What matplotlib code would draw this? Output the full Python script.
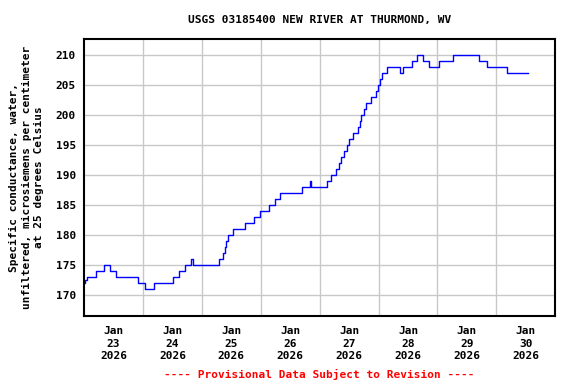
import matplotlib.pyplot as plt
import pandas as pd

# Specific conductance readings (step changes)
times = ['2026-01-23 00:00', '2026-01-23 00:30', '2026-01-23 01:00', '2026-01-23 04:45',
         '2026-01-23 08:15', '2026-01-23 10:30', '2026-01-23 13:00', '2026-01-23 22:00',
         '2026-01-24 01:00', '2026-01-24 04:30', '2026-01-24 12:15', '2026-01-24 14:45',
         '2026-01-24 17:15', '2026-01-24 19:45', '2026-01-24 20:15', '2026-01-25 07:00',
         '2026-01-25 08:45', '2026-01-25 09:30', '2026-01-25 10:00', '2026-01-25 10:45',
         '2026-01-25 12:45', '2026-01-25 17:30', '2026-01-25 21:15', '2026-01-25 23:45',
         '2026-01-26 03:30', '2026-01-26 05:45', '2026-01-26 08:00', '2026-01-26 16:45',
         '2026-01-26 20:15', '2026-01-26 20:30', '2026-01-27 03:00', '2026-01-27 04:45',
         '2026-01-27 06:45', '2026-01-27 07:45', '2026-01-27 08:45', '2026-01-27 09:45',
         '2026-01-27 11:15', '2026-01-27 12:00', '2026-01-27 13:30', '2026-01-27 15:45',
         '2026-01-27 16:15', '2026-01-27 17:00', '2026-01-27 18:00', '2026-01-27 19:00',
         '2026-01-27 21:00', '2026-01-27 23:00', '2026-01-27 23:45', '2026-01-28 00:30',
         '2026-01-28 01:15', '2026-01-28 03:30', '2026-01-28 08:45', '2026-01-28 10:00',
         '2026-01-28 13:30', '2026-01-28 15:30', '2026-01-28 18:15', '2026-01-28 20:45',
         '2026-01-29 00:30', '2026-01-29 06:15', '2026-01-29 17:00', '2026-01-29 20:15',
         '2026-01-30 04:15', '2026-01-30 12:45']
values = [172, 172.5, 173, 174,
          175, 174, 173, 172,
          171, 172, 173, 174,
          175, 176, 175, 176,
          177, 178, 179, 180,
          181, 182, 183, 184,
          185, 186, 187, 188,
          189, 188, 189, 190,
          191, 192, 193, 194,
          195, 196, 197, 198,
          199, 200, 201, 202,
          203, 204, 205, 206,
          207, 208, 207, 208,
          209, 210, 209, 208,
          209, 210, 209, 208,
          207, 207]

yticks = [170, 175, 180, 185, 190, 195, 200, 205, 210]
day_labels = ['2026-01-23 12:00', '2026-01-24 12:00', '2026-01-25 12:00', '2026-01-26 12:00',
              '2026-01-27 12:00', '2026-01-28 12:00', '2026-01-29 12:00', '2026-01-30 12:00']
day_lines = ['2026-01-24', '2026-01-25', '2026-01-26', '2026-01-27',
             '2026-01-28', '2026-01-29', '2026-01-30']

t = pd.to_datetime(times)
plt.rcParams['font.family'] = 'DejaVu Sans Mono'
plt.rcParams['font.weight'] = 'bold'

fig = plt.figure(figsize=(5.76, 3.84), dpi=100)
ax = fig.add_axes([0.146, 0.177, 0.818, 0.721])

for d in pd.to_datetime(day_lines):
    ax.axvline(d, color='#c8c8c8', lw=1, zorder=0)
for y in yticks:
    ax.axhline(y, color='#c8c8c8', lw=1, zorder=0)

ax.step(t, values, where='post', color='#0000ff', lw=1)

ax.set_xlim(pd.Timestamp('2026-01-23'), pd.Timestamp('2026-01-31'))
ax.set_ylim(166.55, 212.55)
ax.set_yticks(yticks)
ax.set_yticklabels([str(y) for y in yticks], fontsize=8, fontweight='bold')
xt = pd.to_datetime(day_labels)
ax.set_xticks(xt)
ax.set_xticklabels([d.strftime('%b\n%d\n%Y') for d in xt], fontsize=8, fontweight='bold',
                   linespacing=1.35)
ax.tick_params(length=0, pad=6)
ax.tick_params(axis='x', pad=7)
for s in ax.spines.values():
    s.set_linewidth(1.5)

ax.set_ylabel('Specific conductance, water,\nunfiltered, microsiemens per centimeter\nat 25 degrees Celsius',
              fontsize=8, fontweight='bold', linespacing=1.35, labelpad=8)
fig.text(0.555, 0.948, 'USGS 03185400 NEW RIVER AT THURMOND, WV', ha='center', va='center',
         fontsize=8, fontweight='bold')
fig.text(0.555, 0.025, '---- Provisional Data Subject to Revision ----', ha='center', va='center',
         fontsize=8, fontweight='bold', color='red')

plt.savefig('out.png', dpi=100)
